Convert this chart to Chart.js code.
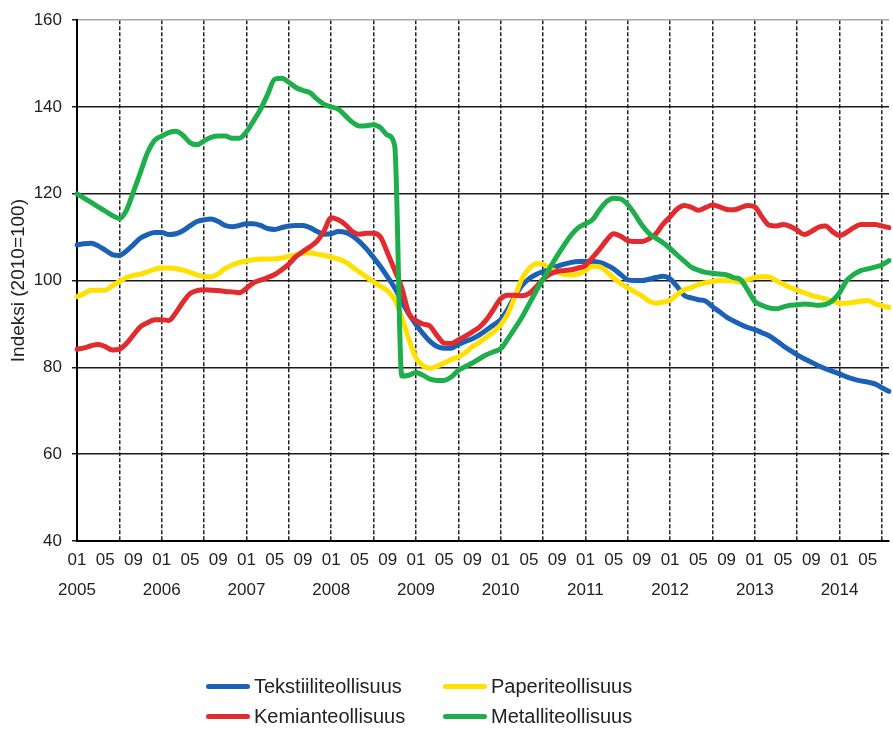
<!DOCTYPE html>
<html>
<head>
<meta charset="utf-8">
<script src="https://cdn.jsdelivr.net/npm/chart.js@4.4.0/dist/chart.umd.min.js"></script>
<style>
  html, body { margin: 0; padding: 0; background: #fff; }
  #wrap { position: relative; width: 893px; height: 731px; }
  #legend { position: absolute; left: 0; top: 0; width: 893px; height: 731px; pointer-events: none;
            font-family: 'Liberation Sans', Arial, sans-serif; font-size: 20px; color: #222; }
  .item { position: absolute; display: flex; align-items: center; height: 24px; }
  .item .swatch { width: 44px; height: 5px; border-radius: 3px; margin-right: 4px; }
</style>
</head>
<body>
<div id="wrap">
  <canvas id="chart" width="893" height="731"></canvas>
  <div id="legend"></div>
</div>
<script>
// Categories: monthly, 2005/01 .. 2014/08
const years = ['2005', '2006', '2007', '2008', '2009', '2010', '2011', '2012', '2013', '2014'];
const months = ['01', '02', '03', '04', '05', '06', '07', '08', '09', '10', '11', '12'];
const lastYearMonths = 8;

const yTicks = [40, 60, 80, 100, 120, 140, 160];

// Series values (Indeksi 2010=100)
const tekstiili = [
  108.2, 108.5, 108.6, 108.0, 107.0, 106.0, 105.8, 106.8, 108.3, 109.8, 110.6, 111.1,
  111.1, 110.6, 110.8, 111.5, 112.6, 113.6, 114.0, 114.2, 113.6, 112.7, 112.4, 112.7,
  113.1, 113.1, 112.7, 112.0, 111.8, 112.2, 112.6, 112.7, 112.7, 112.2, 111.3, 110.7,
  110.8, 111.3, 111.1, 110.3, 109.0, 107.3, 105.3, 103.2, 100.8, 98.3, 95.2, 92.3,
  89.9, 87.8, 86.0, 84.8, 84.4, 84.4, 85.3, 86.0, 86.6, 87.5, 88.6, 89.8,
  91.0, 93.4, 96.3, 98.8, 100.4, 101.4, 102.1, 102.7, 103.3, 103.8, 104.2, 104.4,
  104.4, 104.4, 104.2, 103.6, 102.7, 101.4, 100.2, 100.0, 100.0, 100.3, 100.7, 101.0,
  100.4, 98.6, 96.6, 96.0, 95.6, 95.3, 94.0, 92.8, 91.6, 90.7, 89.9, 89.2,
  88.7, 88.0, 87.3, 86.2, 85.0, 83.9, 82.9, 82.0, 81.2, 80.4, 79.7, 79.1,
  78.5, 77.8, 77.3, 76.9, 76.6, 76.2, 75.3, 74.5
];
const paperi = [
  96.3, 97.0, 97.8, 97.8, 97.8, 98.8, 99.8, 100.7, 101.2, 101.5, 102.0, 102.6,
  102.9, 102.9, 102.8, 102.4, 101.9, 101.3, 100.9, 100.9, 101.6, 102.8, 103.6, 104.2,
  104.5, 104.8, 105.0, 105.0, 105.0, 105.2, 105.6, 105.9, 106.3, 106.4, 106.1, 105.8,
  105.4, 105.0, 104.3, 103.1, 102.0, 100.8, 99.7, 98.7, 97.6, 95.6, 91.5, 86.5,
  82.2, 80.4, 79.8, 80.3, 81.0, 81.8, 82.4, 83.4, 84.8, 85.8, 87.0, 88.2,
  89.8, 92.3, 96.2, 100.4, 102.7, 103.9, 103.8, 102.8, 102.0, 101.4, 101.3, 101.5,
  102.3, 103.3, 103.2, 102.1, 100.6, 99.4, 98.3, 97.4, 96.5, 95.3, 94.8, 95.0,
  95.5, 96.8, 97.9, 98.4, 99.1, 99.5, 99.8, 100.0, 100.0, 99.9, 99.7, 100.2,
  100.7, 100.9, 100.9, 100.0, 99.2, 98.4, 97.8, 97.2, 96.6, 96.2, 95.8, 95.3,
  94.8, 94.8, 95.0, 95.3, 95.4, 94.7, 94.2, 93.8
];
const kemian = [
  84.2, 84.5, 85.0, 85.3, 84.8, 84.0, 84.2, 85.5, 87.5, 89.4, 90.3, 91.0,
  91.0, 90.8, 92.6, 95.0, 97.0, 97.7, 97.9, 97.8, 97.7, 97.5, 97.4, 97.2,
  98.2, 99.5, 100.1, 100.7, 101.4, 102.5, 103.8, 105.5, 106.7, 107.8, 109.1, 111.5,
  114.5, 114.0, 112.9, 111.3, 110.7, 110.9, 110.9, 110.0, 106.3, 102.4, 98.3, 92.5,
  90.8, 90.0, 89.5, 87.3, 85.6, 85.5, 86.3, 87.2, 88.2, 89.3, 91.0, 93.4,
  95.8, 96.6, 96.6, 96.5, 97.0, 98.5, 100.3, 101.5, 102.1, 102.3, 102.5, 102.9,
  103.5, 105.3, 107.2, 109.3, 110.8, 110.2, 109.2, 109.0, 109.0, 109.6, 110.8, 113.0,
  114.7, 116.5, 117.3, 116.9, 116.2, 116.8, 117.4, 117.0, 116.4, 116.3, 116.8, 117.3,
  117.0, 114.7, 112.8, 112.6, 112.9, 112.5, 111.6, 110.6, 111.3, 112.3, 112.6, 111.3,
  110.4, 111.1, 112.2, 112.9, 112.9, 112.9, 112.6, 112.2
];
const metalli = [
  120.0, 119.0, 118.0, 117.0, 116.0, 115.0, 114.3, 116.2, 120.5, 125.0, 129.5, 132.3,
  133.3, 134.1, 134.4, 133.5, 131.8, 131.3, 132.2, 133.0, 133.3, 133.3, 132.8, 132.8,
  134.3, 136.8, 139.5, 142.9, 146.4, 146.6, 145.7, 144.5, 143.8, 143.3, 141.8, 140.6,
  140.0, 139.5, 138.0, 136.5, 135.6, 135.7, 135.9, 135.2, 133.5, 131.0, 78.0, 78.2,
  78.8, 78.2, 77.3, 77.0, 77.0, 77.8, 79.3, 80.2, 81.0, 82.0, 82.9, 83.6,
  84.3, 86.5, 89.0, 91.5, 94.5, 97.5, 100.3, 103.0, 105.7, 108.2, 110.5, 112.2,
  113.1, 114.0, 116.3, 118.2, 119.0, 118.8, 117.5, 115.3, 112.8, 110.9, 109.8, 108.7,
  107.4, 105.9, 104.5, 103.1, 102.4, 101.9, 101.7, 101.5, 101.3, 100.7, 100.2, 97.8,
  95.2, 94.3, 93.7, 93.5, 93.9, 94.3, 94.4, 94.6, 94.5, 94.3, 94.5, 95.4,
  97.2, 100.0, 101.4, 102.3, 102.7, 103.1, 103.6, 104.6
];

const seriesNames = ['Tekstiiliteollisuus', 'Paperiteollisuus', 'Kemianteollisuus', 'Metalliteollisuus'];
const seriesColors = ['#1b62b6', '#ffe000', '#e12b2e', '#1eae4b'];

// build month labels
const labels = [];
years.forEach((y, yi) => {
    const n = yi === years.length - 1 ? lastYearMonths : 12;
    for (let m = 0; m < n; m++) labels.push({ year: y, month: months[m] });
});

const tickFont = { family: "'Liberation Sans', Arial, sans-serif", size: 17, lineHeight: '30px' };

const ctx = document.getElementById('chart').getContext('2d');
const chart = new Chart(ctx, {
    type: 'line',
    data: {
        labels: labels.map(l => l.year + '/' + l.month),
        datasets: [tekstiili, paperi, kemian, metalli].map((d, i) => ({
            label: seriesNames[i],
            data: d,
            borderColor: seriesColors[i],
            backgroundColor: seriesColors[i],
            borderWidth: 5,
            pointRadius: 0,
            cubicInterpolationMode: 'monotone',
            borderCapStyle: 'round',
            borderJoinStyle: 'round',
            order: 4 - i
        }))
    },
    options: {
        responsive: false,
        animation: false,
        layout: { padding: { top: 17, right: 0, bottom: 120, left: 0 } },
        plugins: {
            legend: { display: false },
            tooltip: { enabled: false }
        },
        scales: {
            x: {
                offset: false,
                grid: {
                    color: c => (c.index % 6 === 0 ? '#222' : 'transparent'),
                    lineWidth: c => (c.index % 6 === 0 ? 1.5 : 0),
                    drawTicks: false
                },
                border: {
                    display: true,
                    color: '#000',
                    width: 2,
                    dash: [4, 2]
                },
                ticks: {
                    autoSkip: false,
                    maxRotation: 0,
                    minRotation: 0,
                    padding: 4,
                    color: '#222',
                    font: tickFont,
                    callback: function(value, index) {
                        if (index % 4 !== 0) return '';
                        const l = labels[index];
                        return l.month === '01' ? [l.month, l.year] : l.month;
                    }
                },
                afterFit: s => { s.height = 70; }
            },
            y: {
                min: 40,
                max: 160,
                afterBuildTicks: s => { s.ticks = yTicks.map(v => ({ value: v })); },
                grid: {
                    color: c => (c.tick && c.tick.value === 160 ? '#a8a8a8' : '#1a1a1a'),
                    lineWidth: 1.5,
                    tickLength: 5,
                    tickColor: '#1a1a1a'
                },
                border: { display: true, color: '#000', width: 2 },
                ticks: {
                    padding: 10,
                    color: '#222',
                    font: { family: tickFont.family, size: 17 }
                },
                title: {
                    display: true,
                    text: 'Indeksi (2010=100)',
                    color: '#222',
                    font: { family: "'Liberation Sans', Arial, sans-serif", size: 19 },
                    padding: { top: 7, bottom: 0 }
                },
                afterFit: s => { s.width = 77; }
            }
        }
    }
});

// legend as real text below the chart
const legendPos = [
    { left: 206, top: 674 },
    { left: 443, top: 674 },
    { left: 206, top: 704 },
    { left: 443, top: 704 }
];
const legend = document.getElementById('legend');
chart.data.datasets.forEach((ds, i) => {
    const item = document.createElement('div');
    item.className = 'item';
    item.style.left = legendPos[i].left + 'px';
    item.style.top = legendPos[i].top + 'px';
    const sw = document.createElement('span');
    sw.className = 'swatch';
    sw.style.background = ds.borderColor;
    const tx = document.createElement('span');
    tx.textContent = ds.label;
    item.appendChild(sw);
    item.appendChild(tx);
    legend.appendChild(item);
});
</script>
</body>
</html>
